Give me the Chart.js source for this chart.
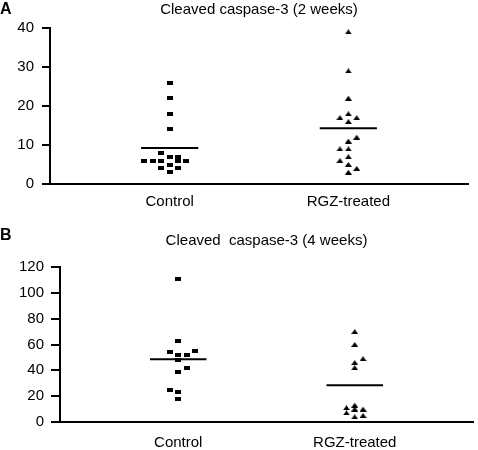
<!DOCTYPE html>
<html>
<head>
<meta charset="utf-8">
<script src="https://cdn.jsdelivr.net/npm/chart.js@4/dist/chart.umd.min.js"></script>
<style>
  body { margin: 0; background: #fff; }
  .panel { position: absolute; left: 0; }
</style>
</head>
<body>
<div class="panel" style="top:0"><canvas id="chartA" width="478" height="215"></canvas></div>
<div class="panel" style="top:225px"><canvas id="chartB" width="478" height="225"></canvas></div>
<script>
const categories = ['Control', 'RGZ-treated'];

// A: 2 weeks
const ctrl2wk     = [26, 22, 18, 14, 8, 7, 7, 6, 6, 6, 6, 6, 5, 4, 4, 3];
const ctrl2wkSlot = [0, 0, 0, 0, -1, 0, 1, -3, -2, -1, 1, 2, 0, -1, 1, 0];
const rgz2wk      = [39, 29, 22, 18, 17, 17, 16, 12, 11, 9, 9, 7, 6, 5, 4, 3];
const rgz2wkSlot  = [0, 0, 0, 0, -1, 1, 0, 1, 0, -1, 0, 0, -1, 0, 1, 0];
const mean2wk     = [9.2, 14.3];
const yTicks2wk   = [0, 10, 20, 30, 40];

// B: 4 weeks
const ctrl4wk     = [111, 63, 55, 54, 52, 52, 48, 42, 39, 25, 23, 18];
const ctrl4wkSlot = [0, 0, 2, -1, 0, 1, 0, 1, 0, -1, 0, 0];
const rgz4wk      = [70, 60, 49, 46, 42, 13, 11, 10, 10, 7, 5, 4];
const rgz4wkSlot  = [0, 0, 1, 0, 0, 0, -1, 0, 1, -1, 1, 0];
const mean4wk     = [48.6, 28.5];
const yTicks4wk   = [0, 20, 40, 60, 80, 100, 120];

const FONT = '"Liberation Sans", Arial, Helvetica, sans-serif';
const SLOT_STEP = 0.047;
const MEAN_HALF = 0.16;

function markerCanvas(w, h, shape){
    const c = document.createElement('canvas');
    c.width = w; c.height = h;
    const g = c.getContext('2d');
    g.fillStyle = '#000';
    if (shape === 'tri') {
        g.beginPath();
        g.moveTo(0, h); g.lineTo(w / 2, 0); g.lineTo(w, h);
        g.closePath(); g.fill();
    } else {
        g.fillRect(0, 0, w, h);
    }
    return c;
}
const squareMark = markerCanvas(6, 4, 'rect');
const triMark = markerCanvas(7, 5, 'tri');

function toPoints(values, slots, cat){
    return values.map((v, i) => ({x: cat + slots[i] * SLOT_STEP, y: v}));
}

const panelLetter = {
    id: 'panelLetter',
    afterDraw(chart, args, opts){
        const c = chart.ctx;
        c.save();
        c.fillStyle = '#000';
        c.font = 'bold 16px ' + FONT;
        c.textBaseline = 'middle';
        c.fillText(opts.text, 0, opts.y);
        c.restore();
    }
};

function makeChart(id, cfg){
    const meanData = (cat, m) => [{x: cat - MEAN_HALF, y: m}, {x: cat + MEAN_HALF, y: m}];
    return new Chart(document.getElementById(id), {
        type: 'scatter',
        data: {
            datasets: [
                {type: 'line', data: meanData(1, cfg.means[0]), borderColor: '#000', borderWidth: 2, pointRadius: 0},
                {type: 'line', data: meanData(2, cfg.means[1]), borderColor: '#000', borderWidth: 2, pointRadius: 0},
                {data: toPoints(cfg.ctrl, cfg.ctrlSlot, 1), pointStyle: squareMark, pointRadius: 3},
                {data: toPoints(cfg.rgz, cfg.rgzSlot, 2), pointStyle: triMark, pointRadius: 3}
            ]
        },
        options: {
            responsive: false,
            animation: false,
            devicePixelRatio: 1,
            layout: {padding: {left: 0, right: cfg.padRight, top: 0, bottom: 0}},
            plugins: {
                legend: {display: false},
                tooltip: {enabled: false},
                title: {
                    display: true,
                    text: cfg.title,
                    fullSize: false,
                    color: '#000',
                    font: {family: FONT, size: 15, weight: 'normal'},
                    padding: cfg.titlePad
                },
                panelLetter: {text: cfg.letter, y: cfg.letterY}
            },
            scales: {
                x: {
                    type: 'linear',
                    min: 0.33,
                    max: 2.67,
                    afterBuildTicks: (axis) => { axis.ticks = [{value: 1}, {value: 2}]; },
                    afterFit: (axis) => { axis.height = cfg.xHeight; },
                    grid: {display: false},
                    border: {display: true, color: '#000', width: 2},
                    ticks: {
                        color: '#000',
                        padding: cfg.xPad,
                        font: {family: FONT, size: 15},
                        callback: (v) => categories[v - 1]
                    }
                },
                y: {
                    min: cfg.yTicks[0],
                    max: cfg.yTicks[cfg.yTicks.length - 1],
                    afterBuildTicks: (axis) => { axis.ticks = cfg.yTicks.map(v => ({value: v})); },
                    afterFit: (axis) => { axis.width = cfg.yWidth; },
                    grid: {drawOnChartArea: false, drawTicks: true, tickLength: cfg.tickLen, color: '#000', lineWidth: 2},
                    border: {display: true, color: '#000', width: 2},
                    ticks: {color: '#000', padding: cfg.yPad, font: {family: FONT, size: 15}}
                }
            }
        },
        plugins: [panelLetter]
    });
}

makeChart('chartA', {
    title: 'Cleaved caspase-3 (2 weeks)', letter: 'A', letterY: 10,
    ctrl: ctrl2wk, ctrlSlot: ctrl2wkSlot, rgz: rgz2wk, rgzSlot: rgz2wkSlot,
    means: mean2wk, yTicks: yTicks2wk,
    padRight: 10, titlePad: {top: 1, bottom: 9},
    xHeight: 31, xPad: 1, yWidth: 50, tickLen: 8, yPad: 8
});

makeChart('chartB', {
    title: 'Cleaved  caspase-3 (4 weeks)', letter: 'B', letterY: 11,
    ctrl: ctrl4wk, ctrlSlot: ctrl4wkSlot, rgz: rgz4wk, rgzSlot: rgz4wkSlot,
    means: mean4wk, yTicks: yTicks4wk,
    padRight: 1, titlePad: {top: 7, bottom: 17},
    xHeight: 28, xPad: 4, yWidth: 60, tickLen: 9, yPad: 7
});
</script>
</body>
</html>
